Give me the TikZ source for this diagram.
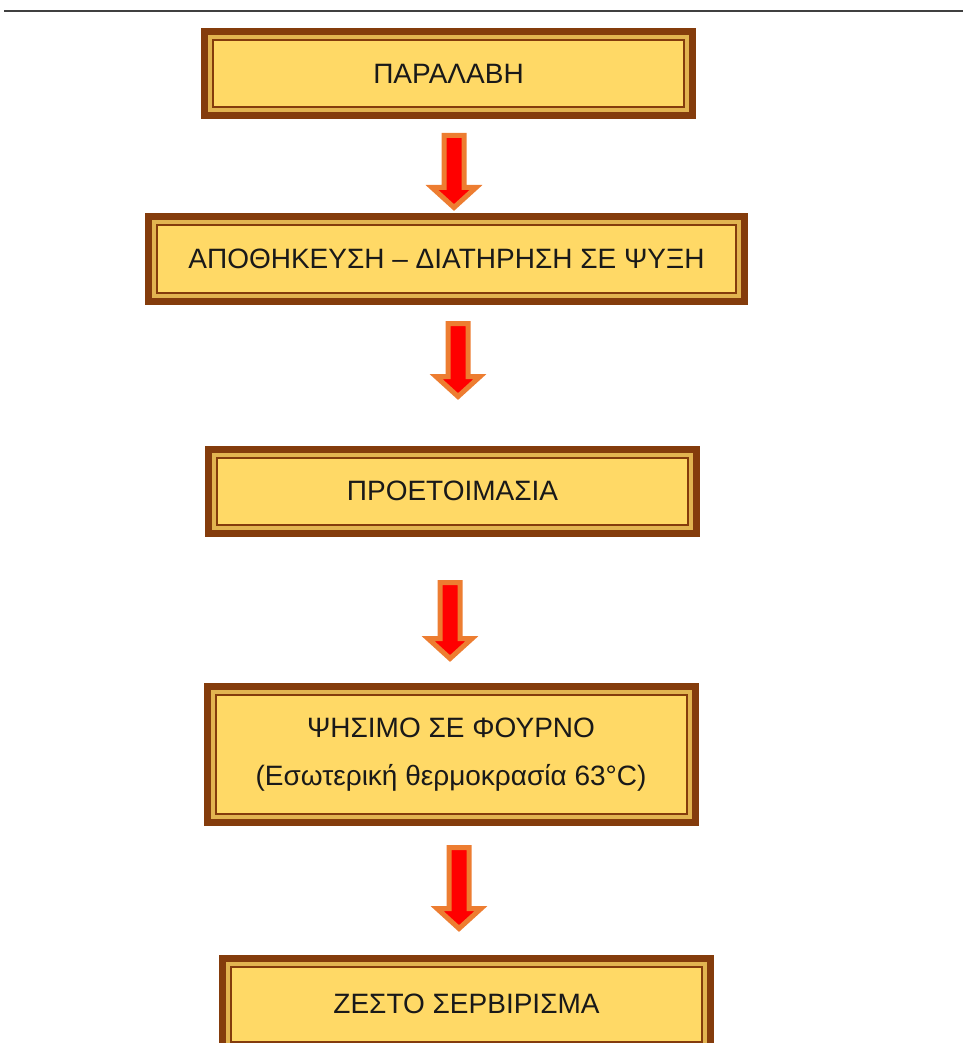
\documentclass[tikz,border=0pt]{standalone}
\usepackage{fontspec}
\setmainfont{Liberation Sans}
\usepackage{tikz}
\usetikzlibrary{calc}
\definecolor{boxbrown}{HTML}{843C0C}
\definecolor{boxgold}{HTML}{E2B450}
\definecolor{boxyellow}{HTML}{FFD966}
\definecolor{arroworange}{HTML}{ED7D31}
\def\flowarrow(#1,#2)(#3){\draw[blockarrow] ({#1-10},{#2+2.5}) -- ({#1+10},{#2+2.5}) -- ({#1+10},{#3-23.5}) -- ({#1+22},{#3-23.5}) -- (#1,{#3-3.5}) -- ({#1-22},{#3-23.5}) -- ({#1-10},{#3-23.5}) -- cycle;}

\begin{document}
\begin{tikzpicture}[x=0.5pt, y=-0.5pt,
	stepbox/.style={draw=boxbrown, line width=3.5pt, fill=boxgold, inner sep=0pt,
		minimum width=244pt, minimum height=42pt, align=center, text=black!90,
		font=\fontsize{14}{24}\selectfont,
		path picture={\draw[boxbrown, line width=1pt, fill=boxyellow]
			([shift={(4.25pt,4.25pt)}]path picture bounding box.south west) rectangle
			([shift={(-4.25pt,-4.25pt)}]path picture bounding box.north east);}},
	blockarrow/.style={draw=arroworange, fill=red, line width=2.5pt, line join=miter}]
			%%%%% START %%%%%
			
			\useasboundingbox (0, 0) rectangle (963, 1043);
			\clip (0, 0) rectangle (963, 1043);
			
			\draw[line width=1pt, color=black!75] (4, 11) -- (963, 11);
			
			\node[stepbox] (paralavi) at (448.5, 73.5) {ΠΑΡΑΛΑΒΗ};
			\node[stepbox, minimum width=298pt, minimum height=42.5pt] (apothikefsi) at (446.5, 259) {ΑΠΟΘΗΚΕΥΣΗ – ΔΙΑΤΗΡΗΣΗ ΣΕ ΨΥΞΗ};
			\node[stepbox] (proetoimasia) at (452.5, 491) {ΠΡΟΕΤΟΙΜΑΣΙΑ};
			\node[stepbox, minimum height=68pt] (psisimo) at (451, 754.5) {ΨΗΣΙΜΟ ΣΕ ΦΟΥΡΝΟ\\(Εσωτερική θερμοκρασία 63°C)};
			\node[stepbox, minimum height=46pt] (servirisma) at (466.5, 1004) {ΖΕΣΤΟ ΣΕΡΒΙΡΙΣΜΑ};
			
			\flowarrow(454, 133)(211);
			\flowarrow(458, 321)(400);
			\flowarrow(450, 580)(662);
			\flowarrow(459, 845)(932);
			
			%%%%% END %%%%%
\end{tikzpicture}
\end{document}
